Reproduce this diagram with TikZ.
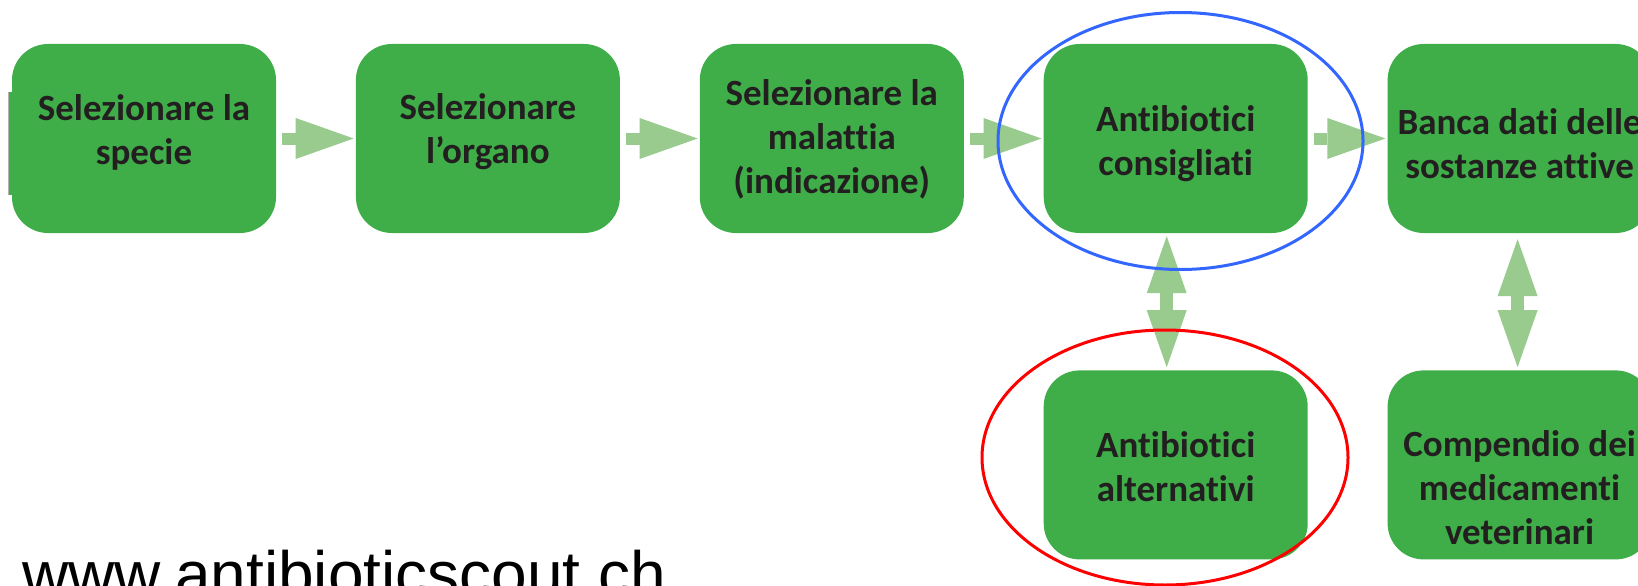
\documentclass[tikz,border=0pt]{standalone}
\usepackage{fontspec}
\setmainfont{Carlito}[Ligatures=NoCommon]
\newfontfamily\urlfont{Liberation Sans}
\usetikzlibrary{arrows.meta,positioning}

\definecolor{boxgreen}{HTML}{3FAE49}
\definecolor{arrowgreen}{HTML}{9ACB8E}
\definecolor{textdark}{HTML}{231F20}
\definecolor{ringblue}{HTML}{3366FF}
\definecolor{ringred}{HTML}{FF0000}

\tikzset{
  stepbox/.style={fill=boxgreen, rounded corners=36pt, minimum width=264pt,
    minimum height=189pt, inner sep=0pt},
  steptext/.style={text=textdark, font=\bfseries\fontsize{37}{44}\selectfont,
    align=center, inner sep=0pt},
  flow/.style={draw=arrowgreen, line width=12pt,
    -{Triangle[length=58pt,width=41pt,line width=0pt]},
    shorten <=6pt, shorten >=2pt},
  link/.style={draw=arrowgreen, line width=13pt,
    {Triangle[length=57pt,width=40pt,line width=0pt]}-{Triangle[length=57pt,width=40pt,line width=0pt]},
    shorten <=3pt, shorten >=3pt},
  ring/.style={line width=3pt}
}

\begin{document}
\begin{tikzpicture}[x=1pt, y=-1pt, node distance=79.5pt]
  \useasboundingbox (0,0) rectangle (1638,586);
  \clip (0,0) rectangle (1638,586);
  % steps of the search
  \node[stepbox] (b1) at (144,138.5) {};
  \node[stepbox, right=of b1] (b2) {};
  \node[stepbox, right=of b2] (b3) {};
  \node[stepbox, right=of b3] (b4) {};
  \node[stepbox, right=of b4] (b5) {};
  \node[stepbox, below=137pt of b4] (b6) {};
  \node[stepbox, below=137pt of b5] (b7) {};
  \fill[boxgreen] (8,92) rectangle (14,195);
  \draw[gray!60, line width=0.8pt] (8.4,92) -- (8.4,195);

  \node[steptext] (t1) at ([yshift=6pt]b1.center) {Selezionare la\\specie};
  \node[steptext] (t2) at ([yshift=7pt]b2.center) {Selezionare\\l’organo};
  \node[steptext] (t3) at ([yshift=-1pt]b3.center) {Selezionare la\\malattia\\(indicazione)};
  \node[steptext] (t4) at ([yshift=-5pt]b4.center) {Antibiotici\\consigliati};
  \node[steptext] (t5) at ([yshift=-5pt]b5.center) {Banca dati delle\\sostanze attive};
  \node[steptext] (t6) at ([yshift=-2pt]b6.center) {Antibiotici\\alternativi};
  \node[steptext] (t7) at ([yshift=-23pt]b7.center) {Compendio dei\\medicamenti\\veterinari};

  % arrows
  \draw[flow] (b1) -- (b2);
  \draw[flow] (b2) -- (b3);
  \draw[flow] (b3) -- (b4);
  \draw[flow] (b4) -- (b5);
  \draw[link] ([xshift=-9pt]b4.south) -- ([xshift=-9pt]b6.north);
  \draw[link, shorten <=6pt] ([xshift=-2pt]b5.south) -- ([xshift=-2pt]b7.north);

  % highlights
  \draw[ring, ringblue] (1180.5,141) ellipse [x radius=182.5pt, y radius=128.5pt];
  \draw[ring, ringred] (1165,457.5) ellipse [x radius=183pt, y radius=127.5pt];

  \node[font=\urlfont\fontsize{64}{64}\selectfont, anchor=base west, inner sep=0pt]
    (url) at (22,596) {www.antibioticscout.ch};
\end{tikzpicture}
\end{document}
